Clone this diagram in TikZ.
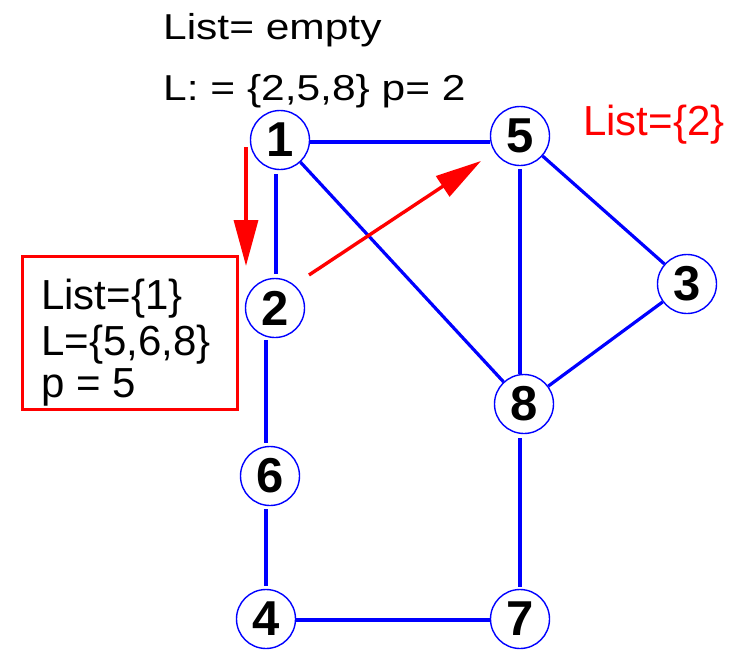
\documentclass[tikz,border=0pt]{standalone}
\usepackage{fontspec}
\setmainfont{Liberation Sans}
\newfontfamily\topfont[FakeStretch=1.18]{Liberation Sans}
\usetikzlibrary{arrows.meta}
\begin{document}
\begin{tikzpicture}[x=1pt,y=-1pt,
  vert/.style={circle,draw=blue,line width=1.4pt,minimum size=59pt,inner sep=0pt,fill=white,
    font=\fontsize{49}{49}\selectfont\bfseries},
  edge/.style={blue,line width=3.2pt},
  redarrow/.style={red,line width=3.4pt,-{Triangle[length=46pt,width=24pt]}},
  txt/.style={anchor=base west,inner sep=0pt,font=\fontsize{42}{42}\selectfont},
  toptxt/.style={anchor=base west,inner sep=0pt,font=\topfont\fontsize{36}{36}\selectfont}]
\useasboundingbox (0,0) rectangle (748,649);

% texts
\node[toptxt] (t1) at (163,39) {List= empty};
\node[toptxt] (t2) at (163,100) {L: = \{2,5,8\} p= 2};
\node[txt,red] (t3) at (583,135) {List=\{2\}};

% red box
\node[draw=red,line width=3pt,minimum width=215pt,minimum height=153pt,inner sep=0pt] (box) at (129.5,332.5) {};
\node[txt] (b1) at (41,309) {List=\{1\}};
\node[txt] (b2) at (41,355) {L=\{5,6,8\}};
\node[txt] (b3) at (41,397) {p = 5};

% vertices
\node[vert] (n1) at (280,140) {1};
\node[vert] (n5) at (520,136) {5};
\node[vert] (n2) at (275,308) {2};
\node[vert] (n3) at (687,284) {3};
\node[vert] (n8) at (524,404) {8};
\node[vert] (n6) at (270,476) {6};
\node[vert] (n4) at (266,619) {4};
\node[vert] (n7) at (520,619) {7};

% edges
\draw[edge] ([yshift=-2pt]n1.east) -- ([yshift=-6pt]n5.west);
\draw[edge] ([xshift=-4pt,yshift=-4pt]n1.south) -- ([xshift=1pt,yshift=4pt]n2.north);
\draw[edge] (n1) -- (n8);
\draw[edge] ([yshift=-3pt]n5.south) -- ([xshift=-4pt]n8.north);
\draw[edge] (n5) -- (n3);
\draw[edge] (n3) -- (n8);
\draw[edge] ([xshift=-9pt,yshift=-2pt]n2.south) -- ([xshift=-4pt,yshift=3pt]n6.north);
\draw[edge] ([xshift=-4pt,yshift=-3pt]n6.south) -- ([yshift=3pt]n4.north);
\draw[edge] ([yshift=-1pt]n4.east) -- ([yshift=-1pt]n7.west);
\draw[edge] ([xshift=-4pt,yshift=-4pt]n8.south) -- ([yshift=2pt]n7.north);

% red arrows
\coordinate (a1s) at (246,147);
\coordinate (a1e) at (246,266);
\coordinate (a2s) at (309,275);
\coordinate (a2e) at (481,161);
\draw[redarrow] (a1s) -- (a1e);
\draw[redarrow] (a2s) -- (a2e);
\end{tikzpicture}
\end{document}
